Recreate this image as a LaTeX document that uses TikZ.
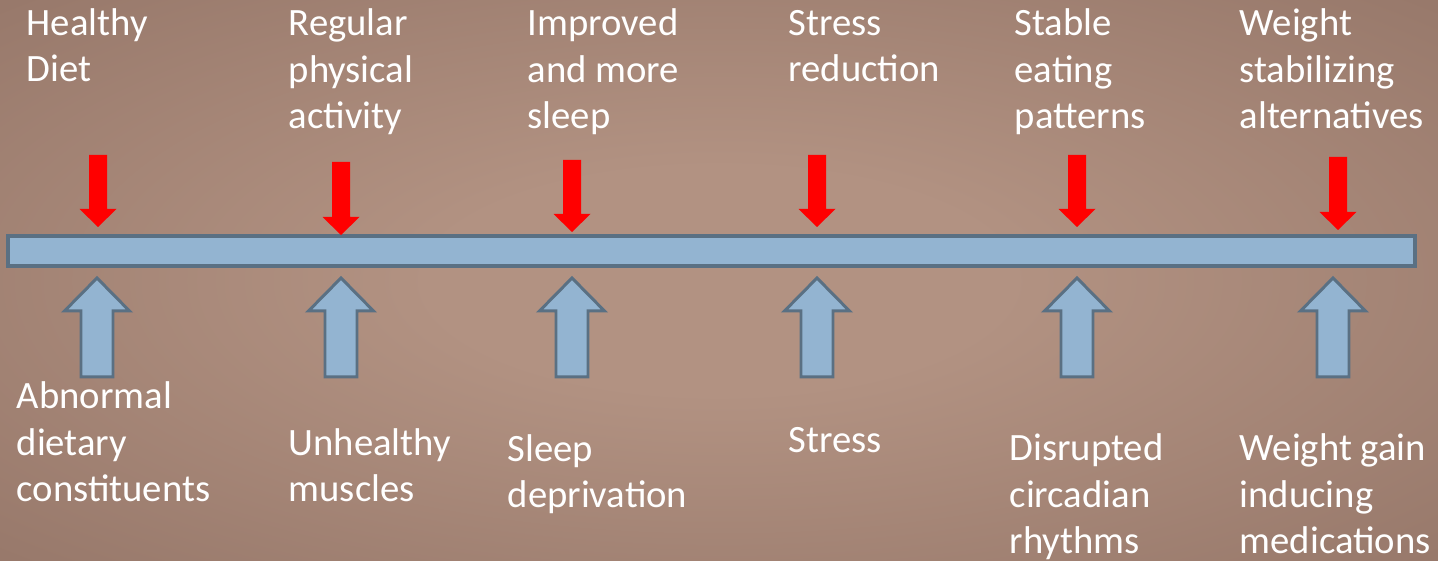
\documentclass[tikz,border=0pt]{standalone}
\usepackage{fontspec}
\setmainfont{Carlito}
\usetikzlibrary{positioning}

\definecolor{bgin}{HTML}{B29282}
\definecolor{bgout}{HTML}{7E6054}
\definecolor{barblue}{HTML}{93B4D1}
\definecolor{barline}{HTML}{5A7083}
\definecolor{pushred}{HTML}{FF0000}

\pgfdeclareradialshading{bgglow}{\pgfpoint{0bp}{0bp}}{%
  color(0bp)=(bgin); color(10bp)=(bgin); color(60bp)=(bgout); color(75bp)=(bgout)}

\tikzset{
  label text/.style={anchor=base west, inner sep=0pt, align=left, text=white,
    font=\fontsize{11}{13.3}\selectfont},
  timeline/.style={draw=barline, fill=barblue, line width=0.9pt},
  uparrow/.style={draw=barline, fill=barblue, line width=0.85pt, line join=miter},
  downarrow/.style={fill=pushred}
}

\begin{document}
\begin{tikzpicture}[x=0.01cm, y=-0.01cm]
  \shade[shading=bgglow] (0,0) rectangle (1438,561);
  \useasboundingbox (0,0) rectangle (1438,561);

  % the bar
  \draw[timeline] (8,236) rectangle (1415,266);

  % red arrows: x / top / tip
  \foreach \x/\top/\tip in {98/155/227, 341/162/235, 572/160/232,
                            817/155/227, 1077/155/227, 1338/157/230}
    \fill[downarrow] (\x-9,\top) -- (\x+9,\top) -- (\x+9,\tip-18)
      -- (\x+18.5,\tip-18) -- (\x,\tip) -- (\x-18.5,\tip-18)
      -- (\x-9,\tip-18) -- cycle;

  % blue arrows
  \foreach \x in {97, 341, 572, 817, 1077, 1333}
    \draw[uparrow] (\x-16,377) -- (\x-16,311) -- (\x-32.5,311) -- (\x,278)
      -- (\x+32.5,311) -- (\x+16,311) -- (\x+16,377) -- cycle;

  % upper labels (placed by the baseline of the last line)
  \node[label text] (diet) at (26,82) {Healthy\\Diet};
  \node[label text] (activity) at (288,129) {Regular\\physical\\activity};
  \node[label text] (sleep) at (527,129) {Improved\\and more\\sleep};
  \node[label text] (relief) at (788,82) {Stress\\reduction};
  \node[label text] (eating) at (1014,129) {Stable\\eating\\patterns};
  \node[label text] (weight) at (1239,129) {Weight\\stabilizing\\alternatives};

  % lower labels
  \node[label text] (dietary) at (16,502) {Abnormal\\dietary\\constituents};
  \node[label text] (muscles) at (288,502) {Unhealthy\\muscles};
  \node[label text] (deprived) at (507,508) {Sleep\\deprivation};
  \node[label text] (stress) at (788,453) {Stress};
  \node[label text] (rhythms) at (1009,554) {Disrupted\\circadian\\rhythms};
  \node[label text] (medication) at (1239,554) {Weight gain\\inducing\\medications};
\end{tikzpicture}
\end{document}
